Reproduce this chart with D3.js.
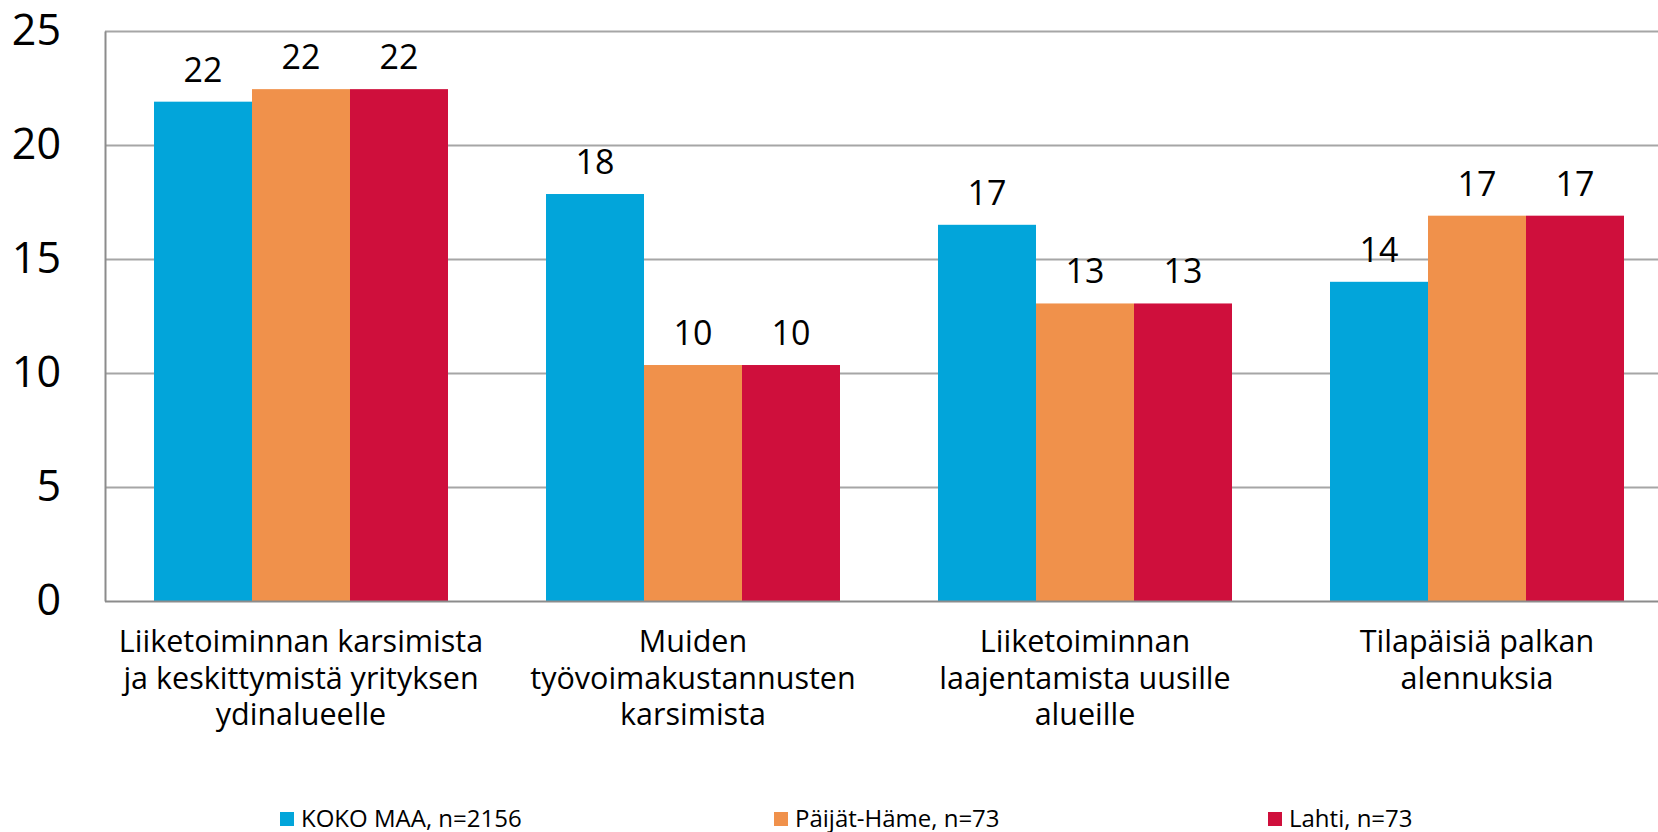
<!DOCTYPE html>
<html><head><meta charset="UTF-8">
  <style>
    body {
      margin: 0;
      background: white;
      font-family: "Open Sans", sans-serif;
    }
    svg text {
      fill: #000;
    }
  </style>
</head>
<body>
  <svg id="chart">
    <g id="grid"></g>
    <g id="bars"></g>
    <g id="labels"></g>
    <g id="yAxis"></g>
    <g id="xAxis"></g>
    <g id="legend"></g>
  </svg>
  <script src="https://cdn.jsdelivr.net/npm/d3@7"></script>
  <script>
    // data
    var categories = [
      ["Liiketoiminnan karsimista", "ja keskittymistä yrityksen", "ydinalueelle"],
      ["Muiden", "työvoimakustannusten", "karsimista"],
      ["Liiketoiminnan", "laajentamista uusille", "alueille"],
      ["Tilapäisiä palkan", "alennuksia"]
    ];
    var seriesNames = ["KOKO MAA, n=2156", "Päijät-Häme, n=73", "Lahti, n=73"];
    var kokoMaa = [21.9, 17.85, 16.5, 14.0];
    var paijatHame = [22.45, 10.35, 13.05, 16.9];
    var lahti = [22.45, 10.35, 13.05, 16.9];
    var yTicks = [0, 5, 10, 15, 20, 25];
    var colors = ["#02a5da", "#f0914b", "#cf0f3c"];

    var width = 1658, height = 832;
    var padding = {top: 31, left: 105, bottom: 231, right: 0};

    var svg = d3.select("#chart")
      .attr("width", width)
      .attr("height", height);

    var catKeys = categories.map(function (d, i) { return i; });
    var seriesValues = [kokoMaa, paijatHame, lahti];

    // the plot is cut off on the right in the original, so the band range runs past the edge
    var xScale = d3.scaleBand()
      .domain(catKeys)
      .range([padding.left, padding.left + 1568])
      .paddingInner(0.25)
      .paddingOuter(0.125);

    var xInner = d3.scaleBand()
      .domain(seriesNames)
      .range([0, xScale.bandwidth()]);

    var yScale = d3.scaleLinear()
      .domain([0, 25])
      .range([height - padding.bottom, padding.top]);

    // gridlines
    var grid = d3.axisLeft(yScale)
      .tickValues(yTicks.slice(1))
      .tickSize(-(width - padding.left))
      .tickFormat("");
    d3.select("#grid")
      .attr("transform", "translate(" + padding.left + ",0)")
      .call(grid)
      .call(function (g) { g.select(".domain").remove(); })
      .selectAll("line")
      .attr("stroke", "#a6a6a6")
      .attr("stroke-width", 2);

    // bars
    var rows = [];
    seriesValues.forEach(function (vals, s) {
      vals.forEach(function (v, c) {
        rows.push({cat: c, series: seriesNames[s], s: s, value: v});
      });
    });

    d3.select("#bars").selectAll("rect")
      .data(rows)
      .enter().append("rect")
      .attr("x", function (d) { return xScale(d.cat) + xInner(d.series); })
      .attr("y", function (d) { return yScale(d.value); })
      .attr("width", xInner.bandwidth())
      .attr("height", function (d) { return yScale(0) - yScale(d.value); })
      .attr("fill", function (d) { return colors[d.s]; });

    // value labels
    d3.select("#labels").selectAll("text")
      .data(rows)
      .enter().append("text")
      .attr("x", function (d) { return xScale(d.cat) + xInner(d.series) + xInner.bandwidth() / 2; })
      .attr("y", function (d) { return yScale(d.value) - 20; })
      .attr("text-anchor", "middle")
      .attr("font-size", 34)
      .text(function (d) { return Math.round(d.value); });

    // y axis
    var yAxis = d3.axisLeft(yScale)
      .tickValues(yTicks)
      .tickSize(0)
      .tickPadding(44);
    d3.select("#yAxis")
      .attr("transform", "translate(" + padding.left + ",0)")
      .call(yAxis)
      .call(function (g) {
        g.select(".domain")
          .attr("stroke", "#8c8c8c")
          .attr("stroke-width", 2);
      })
      .selectAll("text")
      .attr("font-family", "Open Sans")
      .attr("font-size", 43)
      .attr("fill", "#000");

    // x axis line and category labels
    var xAxisG = d3.select("#xAxis");
    xAxisG.append("line")
      .attr("x1", padding.left)
      .attr("x2", width)
      .attr("y1", yScale(0) + 0.5)
      .attr("y2", yScale(0) + 0.5)
      .attr("stroke", "#8c8c8c")
      .attr("stroke-width", 2);

    var catText = xAxisG.selectAll("text.cat")
      .data(categories)
      .enter().append("text")
      .attr("class", "cat")
      .attr("text-anchor", "middle")
      .attr("font-size", 30.5)
      .attr("transform", function (d, i) {
        return "translate(" + (xScale(i) + xScale.bandwidth() / 2) + "," + (yScale(0) + 51) + ")";
      });
    catText.selectAll("tspan")
      .data(function (d) { return d; })
      .enter().append("tspan")
      .attr("x", 0)
      .attr("y", function (d, i) { return i * 36.7; })
      .text(function (d) { return d; });

    // legend
    var legendX = d3.scaleLinear().domain([0, 2]).range([280, 1268]);
    var legend = d3.select("#legend").selectAll("g")
      .data(seriesNames)
      .enter().append("g")
      .attr("transform", function (d, i) { return "translate(" + legendX(i) + ",812)"; });
    legend.append("rect")
      .attr("width", 14)
      .attr("height", 14)
      .attr("fill", function (d, i) { return colors[i]; });
    legend.append("text")
      .attr("x", 21)
      .attr("y", 14.5)
      .attr("font-size", 24)
      .text(function (d) { return d; });
  </script>
</body></html>
